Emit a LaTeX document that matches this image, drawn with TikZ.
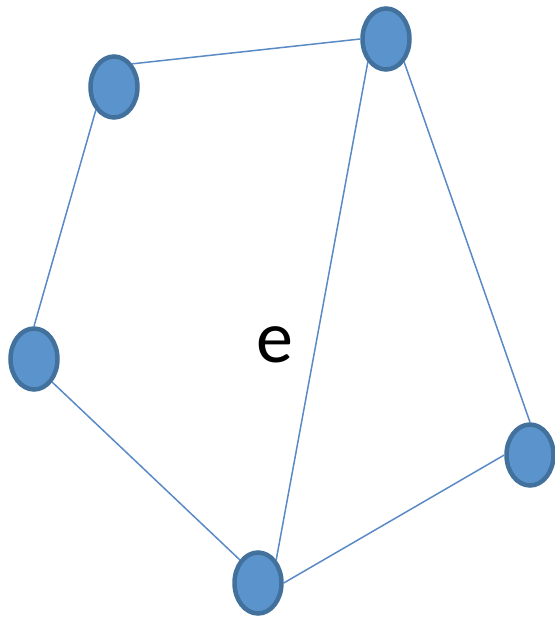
\documentclass[tikz,border=0pt]{standalone}
\usepackage{fontspec}
\setmainfont{Carlito}
\usetikzlibrary{shapes.geometric}

\definecolor{vfill}{HTML}{5B93CC}
\definecolor{vedge}{HTML}{41719C}
\definecolor{link}{HTML}{5A8AC6}

\begin{document}
\begin{tikzpicture}[
  x=1pt, y=-1pt,
  vertex/.style={ellipse, draw=vedge, fill=vfill, line width=4.5pt,
                 minimum width=47pt, minimum height=61pt, inner sep=0pt},
  link/.style={draw=link, line width=1.5pt}
]
  \useasboundingbox (0,0) rectangle (554,620);

  \node[vertex] (tl) at (114,87) {};
  \node[vertex] (tr) at (386,39) {};
  \node[vertex] (ml) at (34,359) {};
  \node[vertex] (bm) at (258,583) {};
  \node[vertex] (mr) at (530,455) {};

  \draw[link] (tl.north east) -- (tr.west);
  \draw[link] (tl.south west) -- (ml.north);
  \draw[link] (tr.south west) -- (bm.north east);
  \draw[link] (tr.south east) -- (mr.north);
  \draw[link] (ml.south east) -- (bm.north west);
  \draw[link] (bm.east) -- (mr.west);

  \node[font=\fontsize{74}{80}\selectfont] (lab) at (275,345) {e};
\end{tikzpicture}
\end{document}
